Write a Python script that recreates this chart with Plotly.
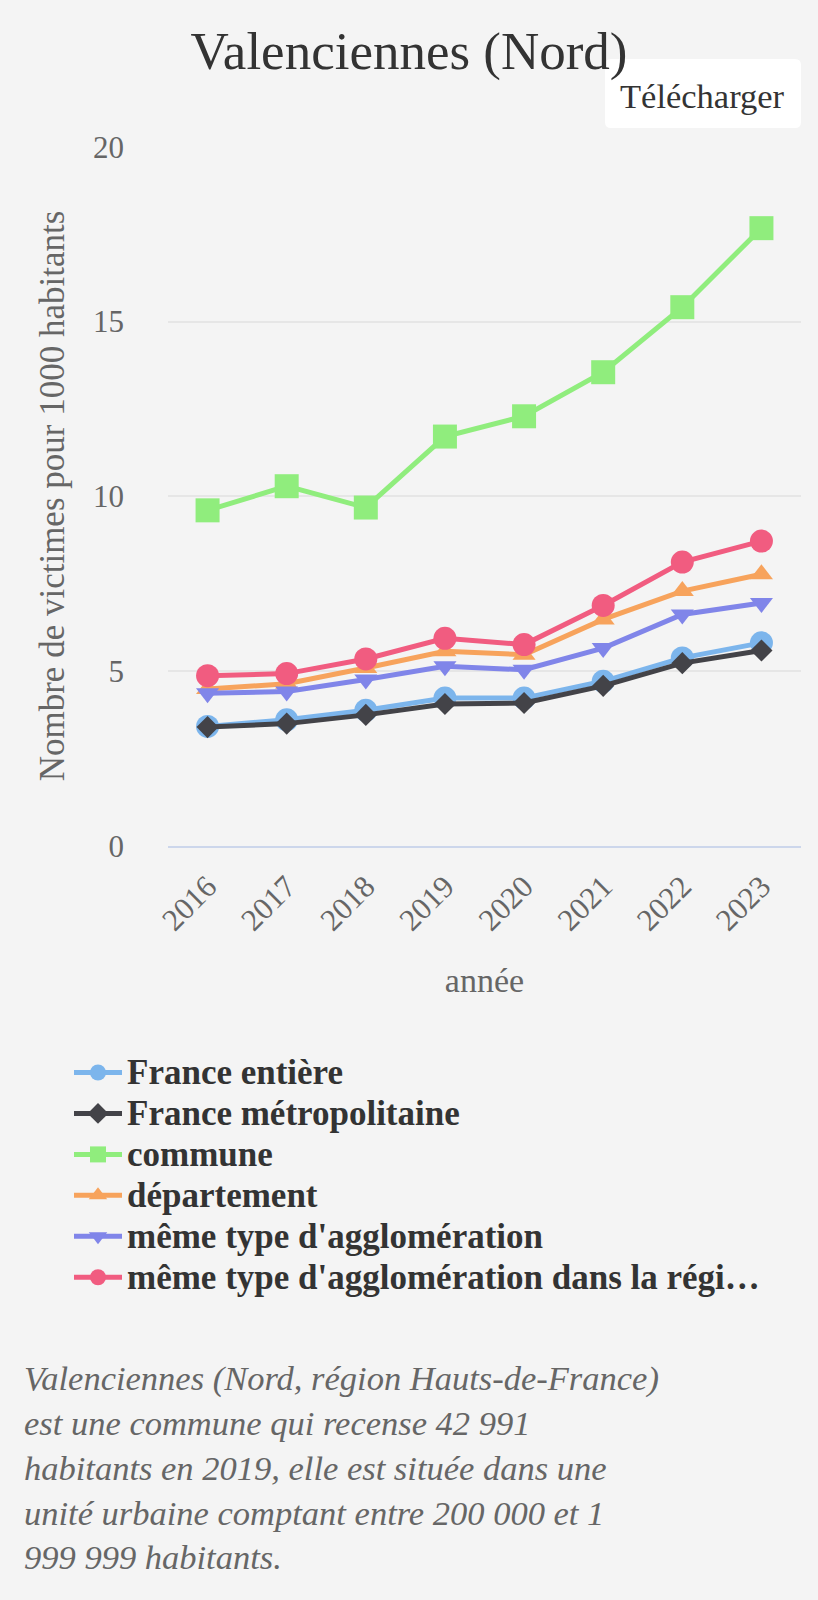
import plotly.graph_objects as go

# ---- data ----
years = ["2016", "2017", "2018", "2019", "2020", "2021", "2022", "2023"]
series_names = [
    "France entière",
    "France métropolitaine",
    "commune",
    "département",
    "même type d'agglomération",
    "même type d'agglomération dans la régi…",
]
france_entiere = [3.42, 3.61, 3.88, 4.23, 4.23, 4.71, 5.38, 5.81]
france_metro = [3.40, 3.50, 3.75, 4.06, 4.09, 4.58, 5.23, 5.59]
commune = [9.60, 10.29, 9.68, 11.71, 12.29, 13.55, 15.41, 17.67]
departement = [4.49, 4.64, 5.09, 5.57, 5.47, 6.48, 7.29, 7.77]
meme_type = [4.37, 4.42, 4.76, 5.14, 5.04, 5.66, 6.62, 6.95]
meme_type_region = [4.87, 4.93, 5.35, 5.94, 5.76, 6.88, 8.12, 8.72]
y_ticks = [0, 5, 10, 15, 20]

values = [france_entiere, france_metro, commune, departement, meme_type, meme_type_region]
colors = ["#7cb5ec", "#434348", "#90ed7d", "#f7a35c", "#8085e9", "#f15c80"]
symbols = ["circle", "diamond", "square", "triangle-up", "triangle-down", "circle"]
sizes = [23, 17, 24, 20, 20, 23]

SERIF = "Liberation Serif, Times New Roman, serif"
BG = "#f4f4f4"

fig = go.Figure()
for name, vals, col, sym, sz in zip(series_names, values, colors, symbols, sizes):
    fig.add_trace(go.Scatter(
        x=years, y=vals, mode="lines+markers",
        name=f'<span style="font-size:35px">{name}</span>',
        line=dict(color=col, width=5),
        marker=dict(color=col, symbol=sym, size=sz, line=dict(width=0)),
    ))

W, H = 818, 1600
L, R, T, B = 168, 17, 146, 754
pw, ph = W - L - R, H - T - B

def px_x(px):
    return (px - L) / pw

def px_y(py):
    return (H - B - py) / ph

fig.update_layout(
    width=W, height=H,
    margin=dict(l=L, r=R, t=T, b=B),
    paper_bgcolor=BG, plot_bgcolor=BG,
    font=dict(family=SERIF, color="#666666"),
    title=dict(
        text="Valenciennes (Nord)",
        font=dict(family=SERIF, size=53, color="#333333"),
        x=0.5, xref="container", xanchor="center",
        y=1 - 50 / H, yref="container", yanchor="middle",
    ),
    showlegend=True,
    legend=dict(
        x=px_x(69), y=px_y(1047), xanchor="left", yanchor="top",
        bgcolor="rgba(0,0,0,0)",
        font=dict(family=SERIF, size=29.2, color="#333333", weight="bold"),
        itemwidth=48,
        traceorder="normal",
    ),
    xaxis=dict(
        type="category",
        range=[-0.5, 7.5],
        showgrid=False,
        showline=True, linecolor="#ccd6eb", linewidth=2,
        zeroline=False,
        tickangle=-45,
        ticks="", ticklabelstandoff=8,
        tickfont=dict(family=SERIF, size=31, color="#666666"),
        title=dict(text="année", font=dict(family=SERIF, size=34, color="#666666"), standoff=32),
        fixedrange=True,
    ),
    yaxis=dict(
        range=[0, 20.02],
        tickvals=y_ticks,
        showgrid=True, gridcolor="#e6e6e6", gridwidth=2,
        zeroline=False, showline=False,
        ticks="", ticklabelstandoff=43,
        tickfont=dict(family=SERIF, size=31, color="#666666"),
        title=dict(text="Nombre de victimes pour 1000 habitants",
                   font=dict(family=SERIF, size=35, color="#666666"), standoff=17),
        fixedrange=True,
    ),
)

# "Télécharger" button: rounded white box (below the title) + label
bx0, bx1, by0, by1 = px_x(605), px_x(801), px_y(128), px_y(59)
rx, ry = 6 / pw, 6 / ph
btn_path = (
    f"M {bx0 + rx},{by1} L {bx1 - rx},{by1} Q {bx1},{by1} {bx1},{by1 - ry} "
    f"L {bx1},{by0 + ry} Q {bx1},{by0} {bx1 - rx},{by0} "
    f"L {bx0 + rx},{by0} Q {bx0},{by0} {bx0},{by0 + ry} "
    f"L {bx0},{by1 - ry} Q {bx0},{by1} {bx0 + rx},{by1} Z"
)
fig.add_shape(type="path", path=btn_path, xref="paper", yref="paper",
              fillcolor="#ffffff", line=dict(width=0), layer="above")
fig.add_annotation(
    text="Télécharger", xref="paper", yref="paper",
    x=px_x(702), y=px_y(96), xanchor="center", yanchor="middle",
    showarrow=False,
    font=dict(family=SERIF, size=34.5, color="#333333"),
)

# footer text
footer = ("Valenciennes (Nord, région Hauts-de-France)<br>"
          "est une commune qui recense 42 991<br>"
          "habitants en 2019, elle est située dans une<br>"
          "unité urbaine comptant entre 200 000 et 1<br>"
          "999 999 habitants.")
fig.add_annotation(
    text=f"<i>{footer}</i>", xref="paper", yref="paper",
    x=px_x(22), y=px_y(1467), xanchor="left", yanchor="middle", align="left",
    showarrow=False,
    font=dict(family=SERIF, size=34.5, color="#666666"),
)

fig.write_html(
    "out.html",
    config={"displayModeBar": False},
    post_script="document.body.style.margin='0px';document.body.style.background='#f4f4f4';",
)
